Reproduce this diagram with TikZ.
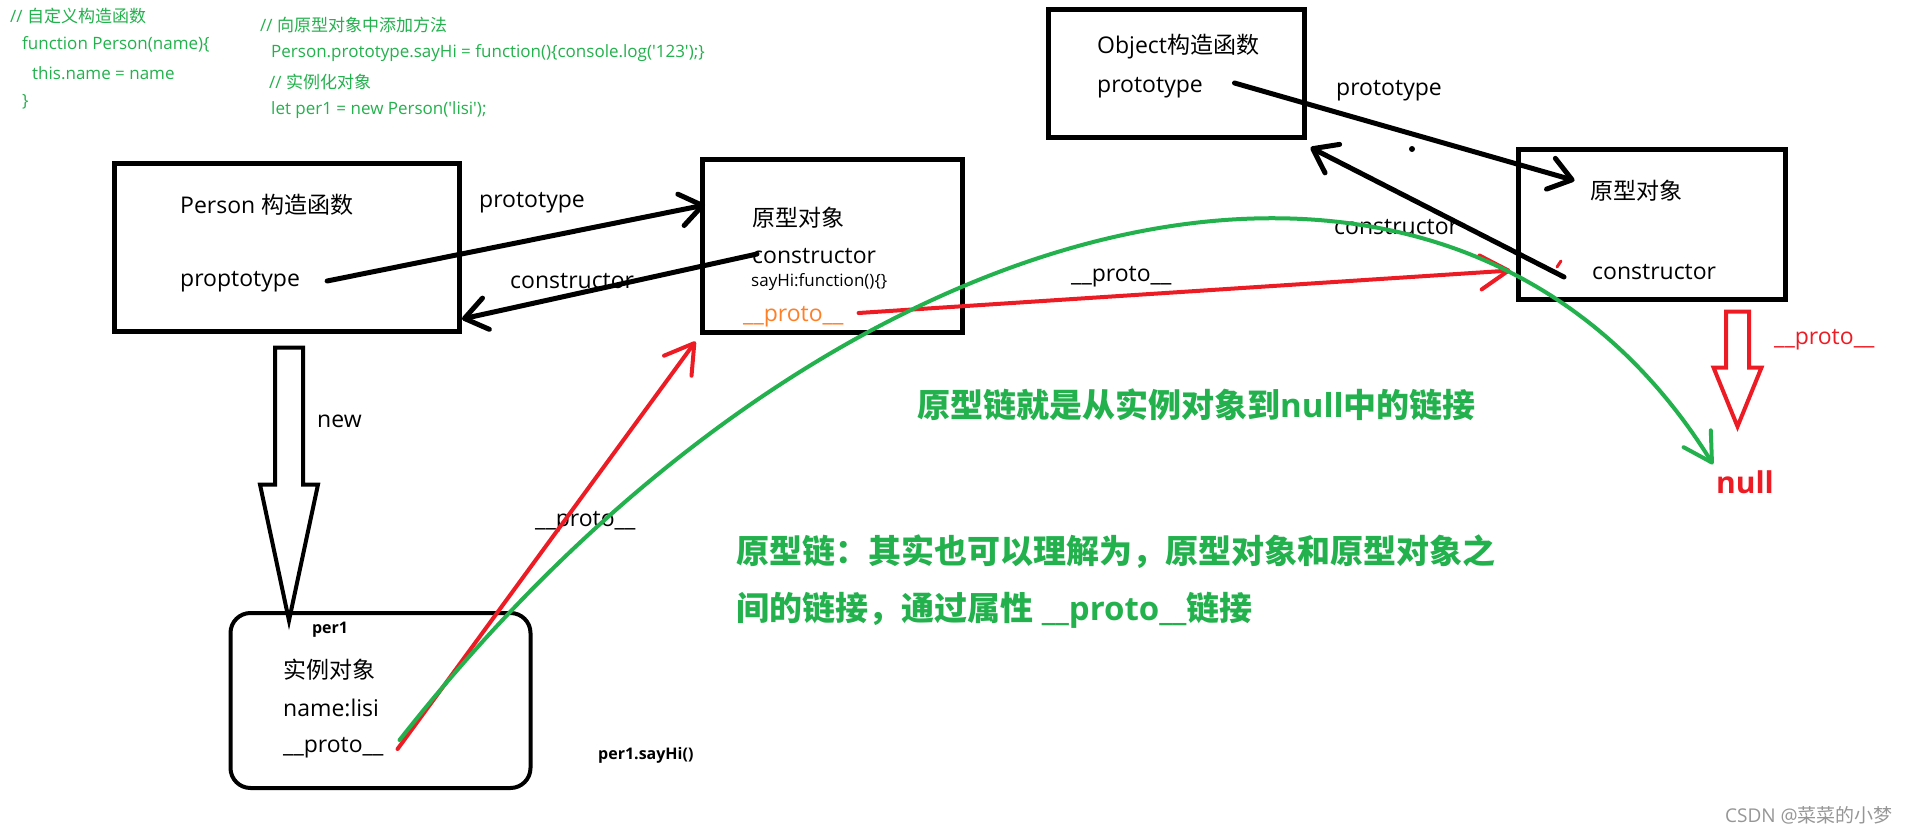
\documentclass[tikz,border=0pt]{standalone}
\usepackage{fontspec}
\setmainfont{Open Sans}
\newfontfamily\cjk{Noto Sans CJK SC}
\usetikzlibrary{arrows.meta,positioning,calc}
\definecolor{pcgreen}{RGB}{34,177,76}
\definecolor{pcred}{RGB}{237,28,36}
\definecolor{pcorange}{RGB}{255,127,39}
\definecolor{pcgray}{RGB}{150,150,150}
\tikzset{
  pcbox/.style={draw, line width=5pt, inner sep=0pt},
  pctext/.style={anchor=west, inner sep=0pt, font=\fontsize{23}{28}\selectfont},
  pcsmall/.style={anchor=west, inner sep=0pt, font=\fontsize{17}{20}\selectfont},
  pcbold/.style={inner sep=0pt, font=\fontsize{16}{19}\selectfont\bfseries},
  pccode/.style={pcsmall, text=pcgreen},
  pcnote/.style={anchor=west, inner sep=0pt, text=pcgreen, font=\fontsize{33}{40}\selectfont\bfseries},
  pcarrow/.style={-{Straight Barb[length=22pt,width=32pt,round]}, line width=5pt, line cap=round},
  pcredarrow/.style={-{Straight Barb[length=28pt,width=34pt,round]}, line width=4pt, pcred, line cap=round},
  pcgreenarrow/.style={-{Straight Barb[length=28pt,width=32pt,round]}, line width=4pt, pcgreen, line cap=round},
  pchollowblk/.style={draw, line width=4pt},
  pchollowred/.style={draw=pcred, line width=4pt},
}
% hollow block arrow pointing down: style, top coordinate, shaft half width, head half width, shaft length, head length
\newcommand{\pchollow}[6]{%
  \draw[#1] ($(#2)+(-#3,0)$) -- ++(0,#5) -- ++(#3-#4,0) -- ++(#4,#6) -- ++(#4,-#6) -- ++(#3-#4,0) -- ++(0,-#5) -- cycle;}

\begin{document}
\begin{tikzpicture}[x=1pt, y=-1pt]
  \useasboundingbox (0,0) rectangle (1912,835);

  \node[pccode] (c1) at (10,16) {// {\cjk 自定义构造函数}};
  \node[pccode] (c2) at (22,44) {function Person(name)\{};
  \node[pccode] (c3) at (32,73) {this.name = name};
  \node[pccode] (c4) at (22,102) {\}};
  \node[pccode] (c5) at (260,25) {// {\cjk 向原型对象中添加方法}};
  \node[pccode] (c6) at (271,53) {Person.prototype.sayHi = function()\{console.log(\textquotesingle 123\textquotesingle);\}};
  \node[pccode] (c7) at (269,82) {// {\cjk 实例化对象}};
  \node[pccode] (c8) at (271,110) {let per1 = new Person(\textquotesingle lisi\textquotesingle);};

  \node[pcbox, minimum width=345pt, minimum height=168pt] (person) at (287,247.5) {};
  \node[pcbox, minimum width=260pt, minimum height=173pt] (proto) at (832.5,246) {};
  \node[pcbox, minimum width=256pt, minimum height=128pt] (obj) at (1176.5,73.5) {};
  \node[pcbox, minimum width=267pt, minimum height=150pt] (objproto) at (1652,224.5) {};
  \node[pcbox, line width=4pt, rounded corners=20pt, minimum width=300pt, minimum height=175pt] (per1) at (380.5,700.5) {};

  \node[pctext] (pname) at (180,205) {Person {\cjk 构造函数}};
  \node[pctext] (pptype) at (180,282) {proptotype};

  \node[pctext] (mtitle) at (752,218) {\cjk 原型对象};
  \node[pctext] (mconst) at (752,256) {constructor};
  \node[pcsmall] (msay) at (751,282) {sayHi:function()\{\}};
  \node[pctext, text=pcorange] (mproto) at (743,317) {\_\_proto\_\_};

  \node[pctext] (oname) at (1097,47) {Object{\cjk 构造函数}};
  \node[pctext] (optype) at (1097,88) {prototype};

  \node[pctext] (rtitle) at (1590,191) {\cjk 原型对象};
  \node[pctext] (rconst) at (1592,272) {constructor};

  \node[pcbold] (p1name) at (330,630) {per1};
  \node[pctext] (itype) at (283,670) {\cjk 实例对象};
  \node[pctext] (iname) at (283,708) {name:lisi};
  \node[pctext] (iproto) at (283,748) {\_\_proto\_\_};
  \node[pcbold, anchor=west] (say) at (598,755) {per1.sayHi()};

  \node[pctext] at (479,203) {prototype};
  \node[pctext] at (510,281) {constructor};
  \node[pctext] at (1336,91) {prototype};
  \node[pctext] at (1334,227) {constructor};
  \node[pctext] at (1071,277) {\_\_proto\_\_};
  \node[pctext] at (535,522) {\_\_proto\_\_};
  \node[pctext] at (317,421) {new};
  \node[pctext, text=pcred] at (1774,340) {\_\_proto\_\_};

  \node[inner sep=0pt, text=pcred, font=\fontsize{30}{36}\selectfont\bfseries] (null) at (1745,482) {null};

  \draw[pcarrow] ($(pptype.east)+(27,-1)$) -- ($(proto.north west)+(5,48)$);
  \draw[pcarrow] ($(mconst.west)+(5,-2)$) -- ($(person.south east)+(0,-15)$);
  \draw[pcarrow] ($(obj.east)+(-72.5,9.5)$) -- ($(objproto.north west)+(58.5,33.5)$);
  \draw[pcarrow] ($(rconst.west)+(-28,5)$) -- ($(obj.south east)+(3.5,7.5)$);

  \draw[pcredarrow] ($(mproto.east)+(15,-4)$) -- ($(objproto.north west)+(-5.5,123.5)$);
  \draw[pcredarrow] ($(iproto.east)+(14,1)$) -- ($(proto.south west)+(-4.5,6.5)$);

  \draw[pcgreenarrow] ($(iproto.east)+(16,-8)$) .. controls (833,188) and (1450,40) .. ($(null.north)+(-32,-6)$);

  \coordinate (newtop) at ($(person.south)+(2,13.5)$);
  \pchollow{pchollowblk}{newtop}{14}{29}{137}{136}
  \coordinate (redtop) at ($(objproto.south)+(85.5,9.5)$);
  \pchollow{pchollowred}{redtop}{11.5}{24}{56}{59}

  \fill (1412,149) circle (3pt);
  \draw[pcred, line width=3pt, line cap=round] (1557,267) -- (1561,261);

  \node[pcnote] (note1) at (917,405) {{\cjk 原型链就是从实例对象到}null{\cjk 中的链接}};
  \node[pcnote] (note2) at (736,552) {\cjk 原型链：其实也可以理解为，原型对象和原型对象之};
  \node[pcnote] (note3) at (736,610) {{\cjk 间的链接，通过属性} \_\_proto\_\_{\cjk 链接}};

  \node[anchor=west, inner sep=0pt, text=pcgray, font=\fontsize{19}{23}\selectfont] (mark) at (1725,815) {CSDN @{\cjk 菜菜的小梦}};
\end{tikzpicture}
\end{document}
